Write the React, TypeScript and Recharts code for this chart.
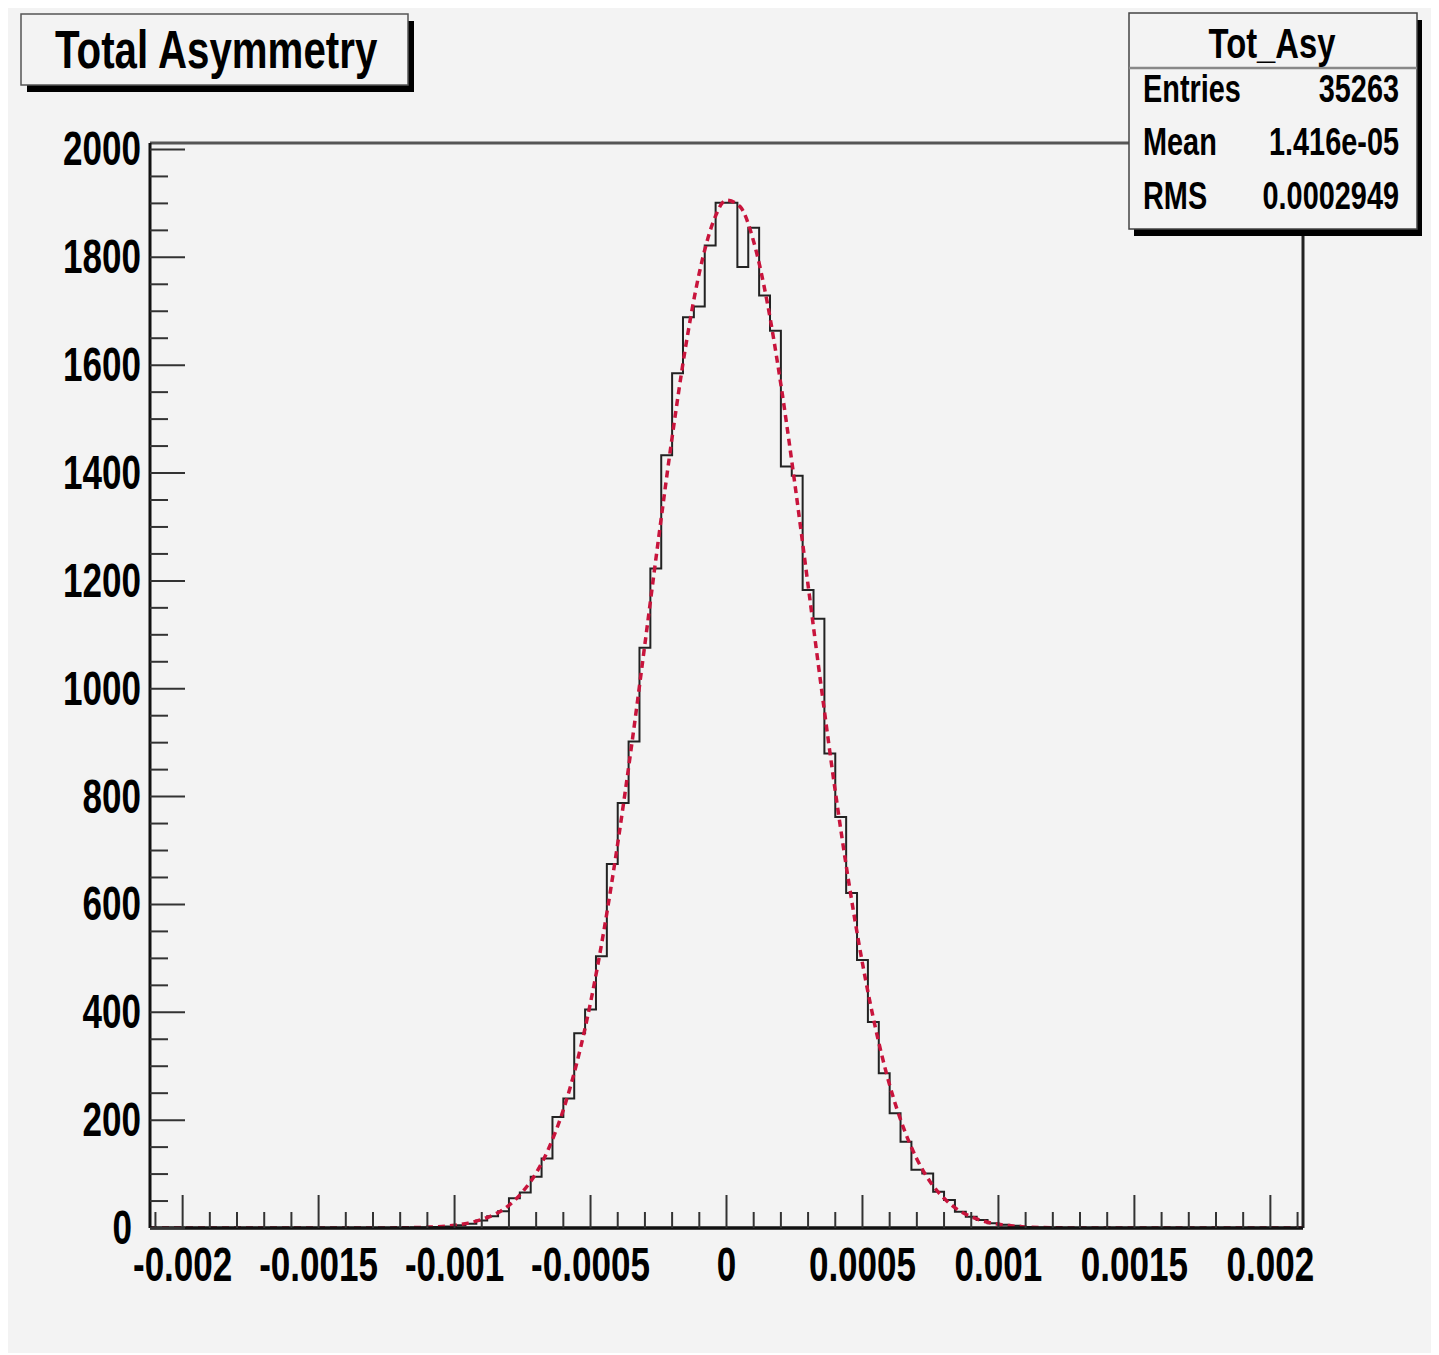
import React from 'react';
import { ComposedChart, Line, XAxis, YAxis, ReferenceLine } from 'recharts';

// histogram: 106 bins of width 4e-5 starting at -0.00212
const binLow = -0.00212;
const binWidth = 0.00004;
const binCounts = [
  0, 0, 0, 0, 0, 0, 0, 0, 0, 0, 0, 0, 0, 0, 0, 0, 0, 0, 0, 0, 0, 0, 0, 0,
  1, 1, 2, 3, 5, 8, 14, 22, 31, 55, 66, 95, 129, 206, 240, 361, 405, 504, 675, 788,
  902, 1076, 1223, 1433, 1585, 1689, 1709, 1822, 1901,
  1901, 1782, 1855, 1729, 1664, 1412, 1395, 1183, 1130, 880, 762, 621, 497, 382,
  287, 213, 160, 108, 101, 67, 52, 30, 21, 15, 9, 6, 4, 2, 1, 1,
  0, 0, 0, 0, 0, 0, 0, 0, 0, 0, 0, 0, 0, 0, 0, 0, 0, 0, 0, 0, 0, 0, 0,
];

// gaussian fit curve
const fitX = [
  -0.00212, -0.0013, -0.0012, -0.0011, -0.001, -0.00095, -0.0009, -0.00085, -0.0008, -0.00075,
  -0.0007, -0.00065, -0.0006, -0.00055, -0.0005, -0.00045, -0.0004, -0.00035, -0.0003, -0.00025,
  -0.0002, -0.00015, -0.0001, -0.00005, 0, 0.00005, 0.0001, 0.00015, 0.0002, 0.00025,
  0.0003, 0.00035, 0.0004, 0.00045, 0.0005, 0.00055, 0.0006, 0.00065, 0.0007, 0.00075,
  0.0008, 0.00085, 0.0009, 0.00095, 0.001, 0.0011, 0.0012, 0.0013, 0.00212,
];
const fitY = [
  0, 0.1, 0.4, 1.5, 5, 9, 16, 26, 42, 67,
  102, 152, 219, 307, 418, 554, 713, 891, 1083, 1278,
  1466, 1635, 1771, 1864, 1906, 1894, 1829, 1716, 1564, 1385,
  1192, 997, 810, 640, 491, 366, 265, 187, 128, 85,
  55, 34, 21, 12, 7, 2, 0.6, 0.1, 0,
];

const xMajorTicks = [-0.002, -0.0015, -0.001, -0.0005, 0, 0.0005, 0.001, 0.0015, 0.002];
const xTickLabels = ['-0.002', '-0.0015', '-0.001', '-0.0005', '0', '0.0005', '0.001', '0.0015', '0.002'];
const yMajorTicks = [0, 200, 400, 600, 800, 1000, 1200, 1400, 1600, 1800, 2000];
const yTickLabels = ['0', '200', '400', '600', '800', '1000', '1200', '1400', '1600', '1800', '2000'];

const statsTitle = 'Tot_Asy';
const statsLabels = ['Entries', 'Mean', 'RMS'];
const statsValues = ['35263', '1.416e-05', '0.0002949'];

const xMinorTicks = Array.from({ length: 43 }, (_, i) => (i - 21) / 10000);
const yMinorTicks = Array.from({ length: 41 }, (_, i) => i * 50);

const histData = binCounts.map((c, i) => ({ x: binLow + i * binWidth, count: c }));
histData.push({ x: binLow + binCounts.length * binWidth, count: binCounts[binCounts.length - 1] });
const fitData = fitX.map((x, i) => ({ x, fit: fitY[i] }));

const FONT = "'Liberation Sans', Arial, Helvetica, sans-serif";
const BG = '#f3f3f3';

const XTick = (props: any) => {
  const { x, y, payload } = props;
  const idx = xMajorTicks.findIndex((t) => Math.abs(t - payload.value) < 1e-9);
  const major = idx >= 0;
  return (
    <g>
      <line x1={x} x2={x} y1={y} y2={y - (major ? 33 : 16)} stroke="#333" strokeWidth={2} />
      {major && (
        <text
          transform={`translate(${x},${y + 53}) scale(0.73,1)`}
          textAnchor="middle"
          fontSize={48}
          fontWeight="bold"
          fontFamily={FONT}
          fill="#000"
        >
          {xTickLabels[idx]}
        </text>
      )}
    </g>
  );
};

const YTick = (props: any) => {
  const { x, y, payload } = props;
  const idx = yMajorTicks.indexOf(payload.value);
  const major = idx >= 0;
  // the zero label sits a little further left so it clears the first x label
  const gap = payload.value === 0 ? 18 : 9;
  return (
    <g>
      <line x1={x} x2={x + (major ? 35 : 18)} y1={y} y2={y} stroke="#333" strokeWidth={2} />
      {major && (
        <text
          transform={`translate(${x - gap},${y + 16}) scale(0.73,1)`}
          textAnchor="end"
          fontSize={48}
          fontWeight="bold"
          fontFamily={FONT}
          fill="#000"
        >
          {yTickLabels[idx]}
        </text>
      )}
    </g>
  );
};

const Overlay = () => (
  <svg width={1429} height={1345} style={{ position: 'absolute', left: 0, top: 0, pointerEvents: 'none' }}>
    {/* title box */}
    <rect x={19} y={13} width={387} height={71} fill="#000" />
    <rect x={13} y={6} width={387} height={71} fill={BG} stroke="#555" strokeWidth={1.5} />
    <text
      transform="translate(47,60) scale(0.76,1)"
      fontSize={53}
      fontWeight="bold"
      fontFamily={FONT}
      fill="#000"
    >
      Total Asymmetry
    </text>

    {/* stats box */}
    <rect x={1126} y={12} width={288} height={216} fill="#000" />
    <rect x={1121} y={5} width={288} height={216} fill={BG} stroke="#444" strokeWidth={1.5} />
    <line x1={1121} x2={1409} y1={60} y2={60} stroke="#888" strokeWidth={2.5} />
    <text
      transform="translate(1264,50) scale(0.78,1)"
      textAnchor="middle"
      fontSize={42}
      fontWeight="bold"
      fontFamily={FONT}
      fill="#000"
    >
      {statsTitle}
    </text>
    {statsLabels.map((lab, i) => (
      <g key={lab}>
        <text
          transform={`translate(1135,${94 + i * 53.3}) scale(0.76,1)`}
          fontSize={38}
          fontWeight="bold"
          fontFamily={FONT}
          fill="#000"
        >
          {lab}
        </text>
        <text
          transform={`translate(1391,${94 + i * 53.3}) scale(0.76,1)`}
          textAnchor="end"
          fontSize={38}
          fontWeight="bold"
          fontFamily={FONT}
          fill="#000"
        >
          {statsValues[i]}
        </text>
      </g>
    ))}
  </svg>
);

export default function App() {
  return (
    <div style={{ position: 'relative', width: 1429, height: 1345, background: BG }}>
      <ComposedChart width={1429} height={1345} margin={{ top: 135, right: 134, bottom: 65, left: 82 }}>
        <XAxis
          dataKey="x"
          type="number"
          domain={[-0.00212, 0.00212]}
          ticks={xMinorTicks}
          interval={0}
          height={60}
          tickSize={0}
          tickMargin={0}
          tickLine={false}
          tick={<XTick />}
          axisLine={{ stroke: '#111', strokeWidth: 3.5 }}
          allowDataOverflow
        />
        <YAxis
          type="number"
          domain={[0, 2012]}
          ticks={yMinorTicks}
          interval={0}
          width={60}
          tickSize={0}
          tickMargin={0}
          tickLine={false}
          tick={<YTick />}
          axisLine={{ stroke: '#111', strokeWidth: 3 }}
          allowDataOverflow
        />
        <ReferenceLine y={2012} stroke="#555" strokeWidth={3} />
        <ReferenceLine x={0.00212} stroke="#222" strokeWidth={3} />
        <Line
          data={histData}
          dataKey="count"
          type="stepAfter"
          stroke="#222"
          strokeWidth={2}
          dot={false}
          activeDot={false}
          isAnimationActive={false}
        />
        <Line
          data={fitData}
          dataKey="fit"
          type="monotone"
          stroke="#c8143c"
          strokeWidth={3.5}
          strokeDasharray="7 5"
          dot={false}
          activeDot={false}
          isAnimationActive={false}
        />
      </ComposedChart>
      <Overlay />
    </div>
  );
}
